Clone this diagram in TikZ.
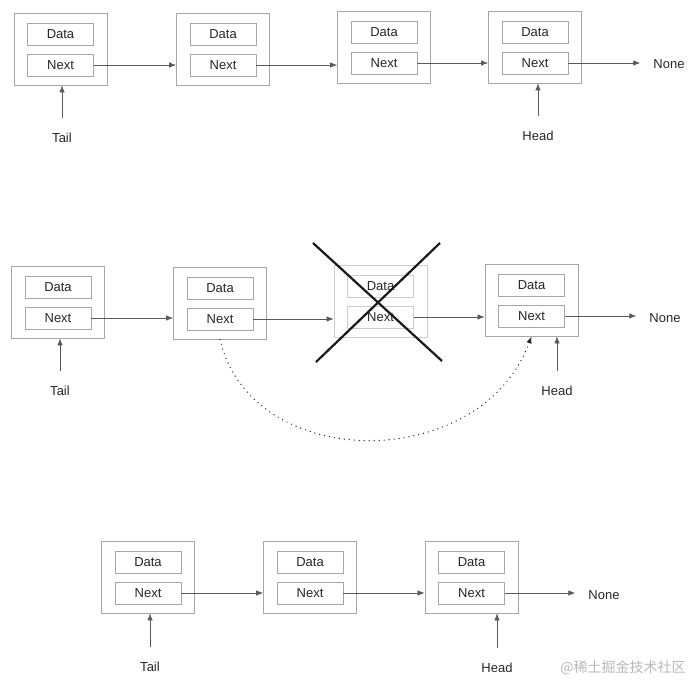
\documentclass[tikz,border=0pt]{standalone}
\usepackage{fontspec}
\setmainfont{Liberation Sans}
\newfontfamily\cjkfont{Noto Sans CJK SC}
\usetikzlibrary{arrows.meta, positioning}

\begin{document}
\begin{tikzpicture}[x=1pt, y=-1pt,
    cell/.style={draw=gray!70, line width=0.8pt, minimum width=93pt, minimum height=72pt, inner sep=0pt},
    field/.style={draw=gray!70, line width=0.8pt, minimum width=66pt, minimum height=22pt, inner sep=0pt,
                  text=black!85, font=\fontsize{13}{15}\selectfont},
    lbl/.style={text=black!85, font=\fontsize{13}{15}\selectfont, inner sep=0pt},
    link/.style={draw=black!65, line width=0.7pt, -{Latex[length=7pt, width=5.5pt]}}]
    \useasboundingbox (0,0) rectangle (693,685);

    % List cells
    \foreach \n/\x/\y in {a1/60.5/49, a2/223/49, a3/384/47, a4/535/47,
                          b1/58/302, b2/220/303, b4/531.5/300,
                          c1/148/577, c2/310/577, c3/471.5/577} {
      \node[cell] (\n) at (\x,\y) {};
      \node[field] (\n-d) at ([yshift=15pt]\n.center) {Data};
      \node[field] (\n-n) at ([yshift=-16pt]\n.center) {Next};
    }

    % Removed cell
    \node[cell, draw=gray!40] (b3) at (380.5,301) {};
    \node[field, draw=gray!40] (b3-d) at ([yshift=15pt]b3.center) {Data};
    \node[field, draw=gray!40] (b3-n) at ([yshift=-16pt]b3.center) {Next};

    % Next pointers
    \foreach \p/\q in {a1/a2, a2/a3, a3/a4, b1/b2, b2/b3, b3/b4, c1/c2, c2/c3} {
      \draw[link] (\p-n.east) -- (\p-n.east -| \q.west);
    }

    % None
    \node[lbl] (none1) at (669,64) {None};
    \node[lbl] (none2) at (665,318) {None};
    \node[lbl] (none3) at (604,595) {None};
    \draw[link, shorten >=13pt] (a4-n.east) -- (a4-n.east -| none1.west);
    \draw[link, shorten >=13pt] (b4-n.east) -- (b4-n.east -| none2.west);
    \draw[link, shorten >=13pt] (c3-n.east) -- (c3-n.east -| none3.west);

    % Tail and Head
    \foreach \t/\x/\y/\txt/\c in {ta/62/138/Tail/a1, ha/538/136/Head/a4,
                                  tb/60/391/Tail/b1, hb/557/391/Head/b4,
                                  tc/150/667/Tail/c1, hc/497/668/Head/c3} {
      \node[lbl] (\t) at (\x,\y) {\txt};
      \draw[link, shorten <=15pt] (\t.north) -- (\t.north |- \c.south);
    }

    % Cross over removed cell
    \draw[line width=2.2pt, black!90] (313,243) -- (442,361);
    \draw[line width=2.2pt, black!90] (440,243) -- (316,362);

    % New link around removed cell
    \draw[link, draw=black!85, line width=1.4pt, line cap=round, dash pattern=on 0pt off 5pt]
      (b2.south) .. controls +(31,134) and +(-51,138) .. (b4.south);

    % Watermark
    \node[text=gray!55, font=\cjkfont\fontsize{14}{16}\selectfont, inner sep=0pt] (wm) at (623,668) {@稀土掘金技术社区};
  \end{tikzpicture}
\end{document}
